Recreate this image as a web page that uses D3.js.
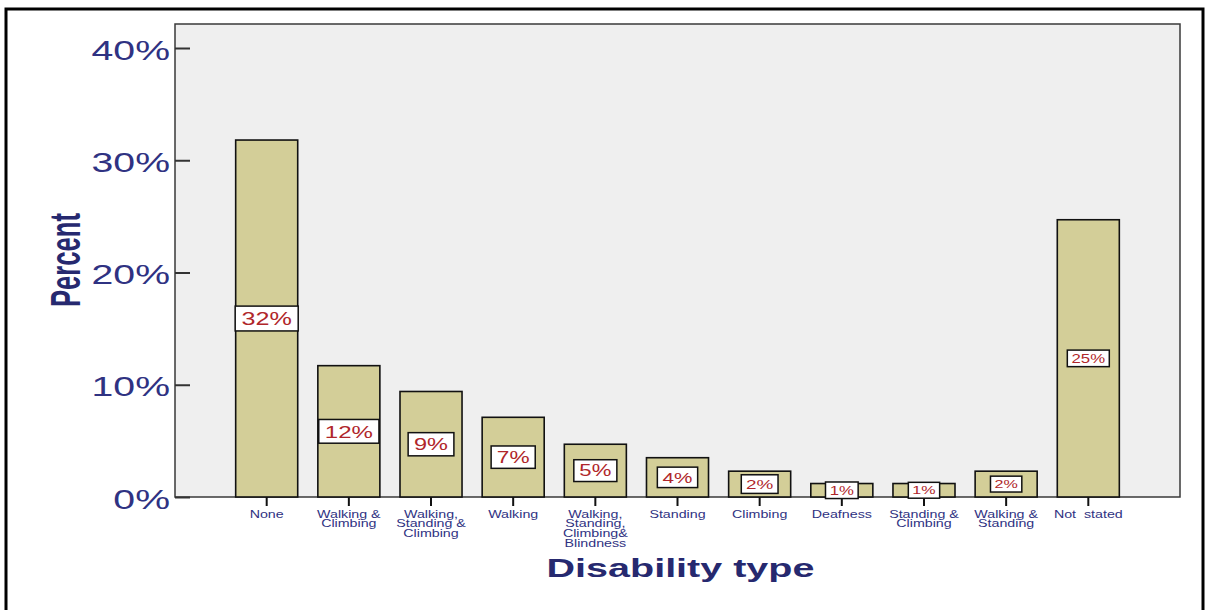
<!DOCTYPE html>
<html><head><meta charset="utf-8">
<script src="https://cdn.jsdelivr.net/npm/d3@7"></script>
<style>
html,body{margin:0;padding:0;background:#fff;}
svg{display:block;font-family:"Liberation Sans",Arial,sans-serif;}
</style></head>
<body>
<svg id="chart" width="1206" height="610"></svg>
<script>
// ---- data ----
const categories = [
  "None",
  "Walking &\nClimbing",
  "Walking,\nStanding &\nClimbing",
  "Walking",
  "Walking,\nStanding,\nClimbing&\nBlindness",
  "Standing",
  "Climbing",
  "Deafness",
  "Standing &\nClimbing",
  "Walking &\nStanding",
  "Not\u00a0 stated"
];
const percents = [31.8, 11.7, 9.4, 7.1, 4.7, 3.5, 2.3, 1.2, 1.2, 2.3, 24.7];
const valueLabels = ["32%", "12%", "9%", "7%", "5%", "4%", "2%", "1%", "1%", "2%", "25%"];
const yTicks = [0, 10, 20, 30, 40];
const yTickLabels = ["0%", "10%", "20%", "30%", "40%"];
const xTitle = "Disability type";
const yTitle = "Percent";

// ---- style (not data) ----
const labelFontSizes = [18, 17.2, 16.8, 16.2, 15.8, 14.8, 13.5, 12, 11.5, 11.5, 12];
const navy = "#2f3282";
const titleNavy = "#26296f";

const svg = d3.select("#chart");
const plot = {left: 175, right: 1180, top: 24, bottom: 497};

// outer frame
svg.append("rect").attr("x", 6).attr("y", 9).attr("width", 1197).attr("height", 640)
  .attr("fill", "none").attr("stroke", "#000").attr("stroke-width", 3);

// plot background
svg.append("rect").attr("x", plot.left).attr("y", plot.top)
  .attr("width", plot.right - plot.left).attr("height", plot.bottom - plot.top)
  .attr("fill", "#efefef").attr("stroke", "#3a3a3a").attr("stroke-width", 1.5);

const x = d3.scaleBand().domain(categories).range([plot.left, plot.right])
  .paddingInner(0.245).paddingOuter(0.7385);
const y = d3.scaleLinear().domain([0, 40]).range([plot.bottom, 48]);

const data = categories.map((c, i) => ({c, v: percents[i], lab: valueLabels[i], fs: labelFontSizes[i]}));

// bars
svg.append("g").selectAll("rect").data(data).join("rect")
  .attr("x", d => x(d.c)).attr("width", x.bandwidth())
  .attr("y", d => y(d.v)).attr("height", d => y(0) - y(d.v))
  .attr("fill", "#d3ce98").attr("stroke", "#111").attr("stroke-width", 1.6);

// y axis
const yAxis = d3.axisLeft(y).tickValues(yTicks).tickFormat((d, i) => yTickLabels[i])
  .tickSizeInner(-15).tickSizeOuter(0).tickPadding(5);
const gy = svg.append("g").attr("transform", `translate(${plot.left},0)`).call(yAxis);
gy.select(".domain").remove();
gy.selectAll(".tick line").attr("stroke", "#333").attr("stroke-width", 2);
gy.selectAll(".tick text").each(function() {
  const t = d3.select(this);
  t.attr("x", 0).attr("dy", null).attr("y", 0)
   .attr("transform", "translate(-5,11) scale(1.4,1)")
   .attr("text-anchor", "end").attr("font-size", 28)
   .attr("font-family", "'Liberation Sans',Arial,sans-serif").attr("fill", navy);
});

// x axis
const xAxis = d3.axisBottom(x).tickSizeInner(9).tickSizeOuter(0).tickPadding(0);
const gx = svg.append("g").attr("transform", `translate(0,${plot.bottom})`).call(xAxis);
gx.select(".domain").remove();
gx.selectAll(".tick line").attr("stroke", "#111").attr("stroke-width", 2);
gx.selectAll(".tick text").each(function(d) {
  const t = d3.select(this);
  t.text(null).attr("y", 0).attr("dy", null)
   .attr("transform", "translate(0,20.5) scale(1.32,1)")
   .attr("text-anchor", "middle").attr("font-size", 10.8)
   .attr("font-family", "'Liberation Sans',Arial,sans-serif").attr("fill", navy);
  d.split("\n").forEach((line, k) => {
    t.append("tspan").attr("x", 0).attr("y", k * 9.8).text(line);
  });
});

// value labels
const lg = svg.append("g").selectAll("g").data(data).join("g")
  .attr("transform", d => `translate(${x(d.c) + x.bandwidth() / 2},${y(d.v / 2)})`);
lg.each(function(d) {
  const g = d3.select(this);
  const sx = 1.4;
  const txt = g.append("text").attr("text-anchor", "middle")
    .attr("font-size", d.fs).attr("fill", "#b0262a")
    .attr("transform", `translate(0,${0.36 * d.fs}) scale(${sx},1)`).text(d.lab);
  const w = txt.node().getComputedTextLength() * sx + 0.7 * d.fs;
  const h = 1.38 * d.fs;
  g.insert("rect", "text").attr("x", -w / 2).attr("y", -h / 2).attr("width", w).attr("height", h)
    .attr("fill", "#fff").attr("stroke", "#111").attr("stroke-width", 1.5);
});

// axis titles
svg.append("text").attr("text-anchor", "middle")
  .attr("transform", `translate(${(plot.left + plot.right) / 2 + 3},577) scale(1.55,1)`)
  .attr("font-size", 25.5).attr("font-weight", "bold").attr("fill", titleNavy).text(xTitle);
svg.append("text").attr("text-anchor", "middle")
  .attr("transform", "translate(80,260) rotate(-90) scale(0.61,1)")
  .attr("font-size", 42).attr("font-weight", "bold").attr("fill", titleNavy).text(yTitle);
</script>
</body></html>
